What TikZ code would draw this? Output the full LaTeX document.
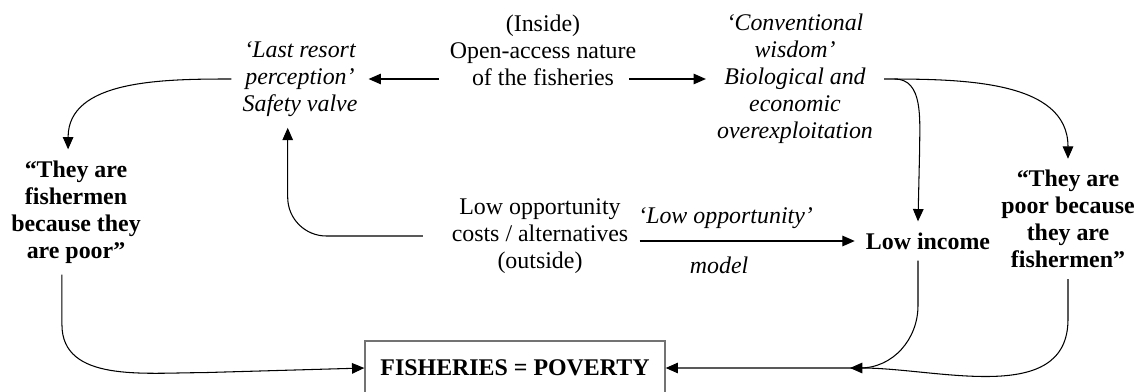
\documentclass[tikz,border=0pt]{standalone}
\usepackage{fontspec}
\setmainfont{Liberation Serif}
\usetikzlibrary{arrows.meta}

\begin{document}
\begin{tikzpicture}[x=0.02cm,y=-0.02cm,
  txt/.style={align=center,inner sep=6.2pt,font=\fontsize{13.6}{15.4}\selectfont},
  bld/.style={txt,font=\fontsize{13.6}{15.4}\selectfont\bfseries},
  itl/.style={txt,font=\fontsize{13.6}{15.4}\selectfont\itshape},
  lbl/.style={inner sep=0pt,font=\fontsize{13.6}{15.4}\selectfont\itshape},
  arr/.style={-{Triangle[length=7pt,width=6pt]},line width=0.6pt}]

% Fix the page size
\useasboundingbox (0,0) rectangle (1146,392);

% Statements
\node[txt] (inside) at (543,50) {(Inside)\\Open-access nature\\of the fisheries};
\node[itl] (lastres) at (300,79) {‘Last resort\\perception’\\Safety valve};
\node[itl] (conv) at (795,79) {‘Conventional\\wisdom’\\Biological and\\economic\\overexploitation};
\node[bld] (fishpoor) at (76,212) {“They are\\fishermen\\because they\\are poor”};
\node[bld] (poorfish) at (1068,219) {“They are\\poor because\\they are\\fishermen”};
\node[txt] (lowopp) at (540,236) {Low opportunity\\costs / alternatives\\(outside)};
\node[bld] (lowinc) at (928,241) {Low income};
\node[bld,draw=black!55,line width=0.8pt,minimum width=6cm,minimum height=1.08cm] (poverty) at (515,368) {FISHERIES = POVERTY};

% Open access, both ways
\coordinate (ia) at ([xshift=-10.5pt]inside.east);
\draw[arr] (inside.west |- lastres.east) -- (lastres.east);
\draw[arr] (ia |- conv.west) -- (conv.west);

% Upper loops
\draw[arr] (lastres.west) to[out=180,in=90] ([xshift=-4.5pt]fishpoor.north);
\draw[arr] (conv.east) to[out=0,in=90] (poorfish.north);
\draw[arr] ([xshift=6pt]conv.east) to[out=0,in=90] ++(25,70) -- ([xshift=-5.7pt]lowinc.north);

% Low opportunity
\draw[arr,rounded corners=22pt] ([xshift=-10pt]lowopp.west) -| ([xshift=-7pt]lastres.south);
\draw[arr] (lowopp.east |- lowinc.west) -- (lowinc.west)
  node[lbl,pos=0.4,above=7pt] {‘Low opportunity’}
  node[lbl,pos=0.37,below=9pt] {model};

% Down to the box
\draw[arr] ([xshift=-8pt]fishpoor.south) -- ++(0,50) to[out=-90,in=180] ++(140,48) -- (poverty.west);
\draw[arr] ([xshift=-5.7pt]lowinc.south) -- ++(0,45) to[out=-90,in=0] (poverty.east -| 860,0) -- (poverty.east);
\draw[arr] (poorfish.south) -- ++(0,40) to[out=-90,in=0] (poverty.east -| 850,0);

\end{tikzpicture}
\end{document}
